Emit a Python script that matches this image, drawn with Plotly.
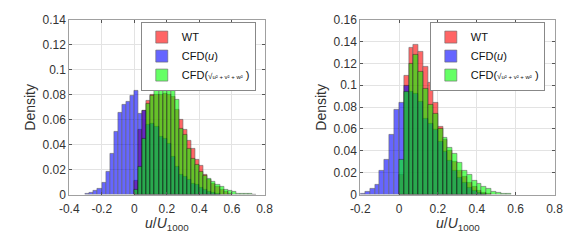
import plotly.graph_objects as go

BIN_W = 0.025

# ---------------- Left panel data (probability per bin of width 0.025) ----------------
left_bin_start = -0.300          # left edge of first bin
left_wt = [None]*12 + [0.011, 0.052, 0.067, 0.075, 0.080, 0.080, 0.080, 0.081, 0.080, 0.078,
                       0.068, 0.060, 0.052, 0.043, 0.037, 0.028, 0.023, 0.016, 0.012, 0.009,
                       0.006, 0.004, 0.002, 0.001]
left_cfd_u = [0.0008, 0.0018, 0.003, 0.005, 0.0093, 0.0186, 0.0324, 0.0507, 0.0657, 0.072,
              0.0745, 0.0788, 0.0833, 0.0645, 0.0675, 0.056, 0.057, 0.054, 0.046, 0.045,
              0.041, 0.030, 0.022, 0.016, 0.014, 0.012, 0.009, 0.008, 0.0055, 0.004,
              0.0025, 0.0015, 0.001]
left_cfd_mag = [None]*12 + [0.004, 0.022, 0.045, 0.073, 0.079, 0.084, 0.093, 0.096, 0.092, 0.088,
                            0.076, 0.053, 0.048, 0.037, 0.029, 0.024, 0.018, 0.015, 0.013, 0.010,
                            0.008, 0.006, 0.004, 0.003, 0.002, 0.001, 0.0007, 0.0005, 0.0004, 0.0003]

# ---------------- Right panel data ----------------
right_bin_start = -0.200
right_wt = [None]*8 + [0.018, 0.1087, 0.134, 0.137, 0.131, 0.117, 0.102, 0.084, 0.062, 0.050,
                       0.040, 0.030, 0.022, 0.016, 0.011, 0.007, 0.004, 0.002, 0.001]
right_cfd_u = [0.001, 0.003, 0.0055, 0.009, 0.022, 0.032, 0.0545, 0.078, 0.084, 0.100,
               0.094, 0.092, 0.085, 0.069, 0.065, 0.059, 0.048, 0.039, 0.031, 0.022,
               0.015, 0.011, 0.006, 0.0035, 0.002, 0.001]
right_cfd_mag = [None]*8 + [0.032, 0.094, 0.120, 0.128, 0.112, 0.097, 0.082, 0.074, 0.060, 0.052,
                            0.043, 0.037, 0.029, 0.022, 0.018, 0.013, 0.010, 0.007, 0.005, 0.003,
                            0.002, 0.001, 0.0005]

series_names = ["WT", "CFD(<i>u</i>)",
                "CFD(<span style='font-size:8px'>√</span><span style='font-size:6px'>u² + v² + w²</span> )"]
series_colors = ["rgb(255,0,0)", "rgb(0,0,255)", "rgb(0,255,0)"]

left_xticks = [-0.4, -0.2, 0, 0.2, 0.4, 0.6, 0.8]
left_xtext = ["-0.4", "-0.2", "0", "0.2", "0.4", "0.6", "0.8"]
left_yticks = [0, 0.02, 0.04, 0.06, 0.08, 0.1, 0.12, 0.14]
left_ytext = ["0", "0.02", "0.04", "0.06", "0.08", "0.1", "0.12", "0.14"]
right_xticks = [-0.2, 0, 0.2, 0.4, 0.6, 0.8]
right_xtext = ["-0.2", "0", "0.2", "0.4", "0.6", "0.8"]
right_yticks = [0, 0.02, 0.04, 0.06, 0.08, 0.1, 0.12, 0.14, 0.16]
right_ytext = ["0", "0.02", "0.04", "0.06", "0.08", "0.1", "0.12", "0.14", "0.16"]

# The page body has a default 8px margin, so the figure is made 8px smaller
OFF = 8
W, H = 579 - OFF, 242 - OFF
FONT = "Liberation Sans, Arial, Helvetica, sans-serif"

fig = go.Figure()

def add_panel(start, data, xaxis, yaxis, legend):
    for vals, name, col in zip(data, series_names, series_colors):
        x = [round(start + i*BIN_W, 4) for i in range(len(vals))]
        fig.add_trace(go.Bar(
            x=x, y=vals, width=BIN_W, offset=0, name=name,
            marker=dict(color=col, line=dict(color="black", width=0.6)),
            opacity=0.6, xaxis=xaxis, yaxis=yaxis, legend=legend,
            hoverinfo="skip"))

add_panel(left_bin_start, [left_wt, left_cfd_u, left_cfd_mag], "x", "y", "legend")
add_panel(right_bin_start, [right_wt, right_cfd_u, right_cfd_mag], "x2", "y2", "legend2")

axis_common = dict(showline=True, linecolor="#a0a0a0", linewidth=1, mirror="ticks",
                   ticks="inside", ticklen=3, tickcolor="#555", showgrid=True,
                   gridcolor="#e3e3e3", gridwidth=1, zeroline=False,
                   ticklabeloverflow="allow",
                   tickfont=dict(family=FONT, size=12, color="#333"))

def px_x(p):
    return (p - OFF) / W

def px_y(p):
    return 1 - (p - OFF) / H

legend_common = dict(xanchor="left", yanchor="top", bgcolor="white", bordercolor="#888",
                     borderwidth=1, font=dict(family=FONT, size=11, color="#111"),
                     tracegroupgap=0, itemclick=False, itemwidth=30)

fig.update_layout(
    width=W, height=H, margin=dict(l=0, r=0, t=0, b=0),
    paper_bgcolor="white", plot_bgcolor="white",
    barmode="overlay", bargap=0, showlegend=True,
    font=dict(family=FONT, size=11, color="#222"),
    xaxis=dict(domain=[px_x(61), px_x(263)], range=[-0.4, 0.8], tickvals=left_xticks,
               ticktext=left_xtext, anchor="y", ticklabelstandoff=3, **axis_common),
    yaxis=dict(domain=[px_y(199), px_y(13)], range=[0, 0.14], tickvals=left_yticks,
               ticktext=left_ytext, anchor="x", **axis_common),
    xaxis2=dict(domain=[px_x(362), px_x(563)], range=[-0.2, 0.8], tickvals=right_xticks,
                ticktext=right_xtext, anchor="y2", ticklabelstandoff=3, **axis_common),
    yaxis2=dict(domain=[px_y(199), px_y(13)], range=[0, 0.16], tickvals=right_yticks,
                ticktext=right_ytext, anchor="x2", **axis_common),
    legend=dict(x=px_x(135), y=px_y(15), **legend_common),
    legend2=dict(x=px_x(434), y=px_y(15), **legend_common),
)

ann_font = dict(family=FONT, size=14, color="#333")
xlabel = "<i>u</i>/<i>U</i><sub>1000</sub>"
ymid = 0.5 * (px_y(199) + px_y(13))
fig.add_annotation(text="Density", x=px_x(21), y=ymid, xref="paper", yref="paper",
                   textangle=-90, showarrow=False, font=ann_font,
                   xanchor="center", yanchor="middle")
fig.add_annotation(text="Density", x=px_x(322), y=ymid, xref="paper", yref="paper",
                   textangle=-90, showarrow=False, font=ann_font,
                   xanchor="center", yanchor="middle")
fig.add_annotation(text=xlabel, x=px_x(162), y=px_y(230), xref="paper", yref="paper",
                   showarrow=False, font=ann_font, xanchor="center", yanchor="middle")
fig.add_annotation(text=xlabel, x=px_x(463), y=px_y(230), xref="paper", yref="paper",
                   showarrow=False, font=ann_font, xanchor="center", yanchor="middle")

fig.write_html("out.html")
